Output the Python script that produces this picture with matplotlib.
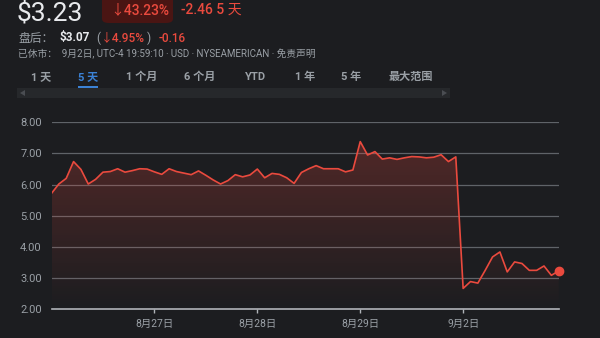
import matplotlib
matplotlib.use("Agg")
import matplotlib.pyplot as plt
import numpy as np
from matplotlib.patches import FancyBboxPatch, Rectangle, Polygon

plt.rcParams['font.family'] = ['Roboto', 'Noto Sans CJK SC', 'DejaVu Sans']

# 5-day intraday prices, 14 points per trading day
prices = [5.72, 6.02, 6.20, 6.74, 6.49, 6.02, 6.17, 6.40, 6.42, 6.51, 6.40, 6.45, 6.51, 6.50,
          6.41, 6.33, 6.51, 6.42, 6.37, 6.32, 6.44, 6.30, 6.15, 6.02, 6.13, 6.32, 6.25, 6.31,
          6.50, 6.22, 6.36, 6.33, 6.22, 6.04, 6.39, 6.51, 6.61, 6.51, 6.51, 6.51, 6.41, 6.47,
          7.38, 6.95, 7.06, 6.82, 6.86, 6.81, 6.86, 6.90, 6.89, 6.86, 6.88, 6.96, 6.74, 6.89,
          2.67, 2.89, 2.84, 3.25, 3.68, 3.84, 3.20, 3.52, 3.47, 3.25, 3.25, 3.39, 3.09, 3.23]
day_ticks = [14, 28, 42, 56]
day_labels = ["8月27日", "8月28日", "8月29日", "9月2日"]
y_ticks = [2, 3, 4, 5, 6, 7, 8]

BG = '#1c1d20'
RED = '#ea4a3e'
GREY = '#9aa0a6'
W, H = 600, 338

fig = plt.figure(figsize=(6, 3.38), dpi=100, facecolor=BG)


def fx(x):
    return x / W


def fy(y):
    return 1 - y / H


def txt(x, y, s, **kw):
    fig.text(fx(x), fy(y), s, va='center', **kw)


# header
txt(17, 13.5, "$3.23", fontsize=19, color='#e8eaed')
fig.patches.append(FancyBboxPatch((fx(102), fy(23)), fx(71), 30 / H,
                                  boxstyle="round,pad=0,rounding_size=0.012",
                                  transform=fig.transFigure, facecolor='#4a1513',
                                  edgecolor='none'))
txt(110, 10, "↓43.23%", fontsize=10, color=RED, fontweight='medium')
txt(181, 10, "-2.46 5 天", fontsize=10, color=RED, fontweight='medium')

txt(18, 38, "盘后：", fontsize=8.5, color=GREY)
txt(60, 38, "$3.07", fontsize=8.5, color='#e8eaed', fontweight='bold')
txt(96, 38, "(", fontsize=8.5, color=GREY)
txt(101, 38, "↓4.95%", fontsize=8.5, color=RED, fontweight='medium')
txt(147, 38, ")", fontsize=8.5, color=GREY)
txt(159, 38, "-0.16", fontsize=8.5, color=RED, fontweight='medium')

txt(18, 54, "已休市：  9月2日, UTC-4 19:59:10 · USD · NYSEAMERICAN · 免责声明",
    fontsize=7, color=GREY)

tabs = [("1 天", 31), ("5 天", 78), ("1 个月", 126), ("6 个月", 184),
        ("YTD", 245), ("1 年", 295), ("5 年", 341), ("最大范围", 389)]
for label, x in tabs:
    txt(x, 77, label, fontsize=8, fontweight='bold',
        color='#3b82d6' if label == "5 天" else GREY)
fig.patches.append(Rectangle((fx(78), fy(88)), fx(20), 2 / H,
                             transform=fig.transFigure, facecolor='#3b82d6'))
fig.patches.append(Rectangle((fx(17), fy(98)), fx(433), 10 / H,
                             transform=fig.transFigure, facecolor='#26282b'))
fig.patches.append(Polygon([(fx(20), fy(93)), (fx(25), fy(90)), (fx(25), fy(96))],
                           closed=True, transform=fig.transFigure, facecolor='#4a4d52'))
fig.patches.append(Polygon([(fx(447), fy(93)), (fx(442), fy(90)), (fx(442), fy(96))],
                           closed=True, transform=fig.transFigure, facecolor='#4a4d52'))

# chart
ax = fig.add_axes([fx(51.5), fy(309.3), fx(558.7 - 51.5), (309.3 - 122.3) / H])
ax.set_facecolor(BG)
x = np.arange(len(prices))

for yv in y_ticks[1:]:
    ax.axhline(yv, color='#5f6368', lw=0.9, zorder=1)
ax.axhline(2, color='#b0b4b9', lw=1.2, zorder=1, clip_on=False)

# gradient fill under the line
grad = np.linspace(0, 1, 256).reshape(-1, 1)
rgba = np.zeros((256, 1, 4))
rgba[..., 0] = 0.92
rgba[..., 1] = 0.29
rgba[..., 2] = 0.24
rgba[..., 3] = 0.26 * grad
fill = ax.fill_between(x, prices, 2, facecolor='none', edgecolor='none')
img = ax.imshow(rgba, extent=[0, len(prices) - 1, 2, max(prices)], origin='lower',
                aspect='auto', zorder=2)
img.set_clip_path(fill.get_paths()[0], transform=ax.transData)
ax.set_xlim(0, len(prices) - 1)
ax.set_ylim(2, 8)

ax.plot(x, prices, color=RED, lw=1.2, zorder=3)
ax.plot(x[-1], prices[-1], 'o', color=RED, ms=6, zorder=4, clip_on=False)

for s in ax.spines.values():
    s.set_visible(False)
ax.set_yticks(y_ticks)
ax.set_yticklabels([f"{v:.2f}" for v in y_ticks])
ax.set_xticks(day_ticks)
ax.set_xticklabels(day_labels)
ax.tick_params(axis='y', length=0, pad=7, labelsize=8, labelcolor=GREY)
ax.tick_params(axis='x', length=3, width=1, color='#b0b4b9', pad=4,
               labelsize=7.5, labelcolor=GREY)

fig.savefig("out.png", dpi=100, facecolor=BG)
